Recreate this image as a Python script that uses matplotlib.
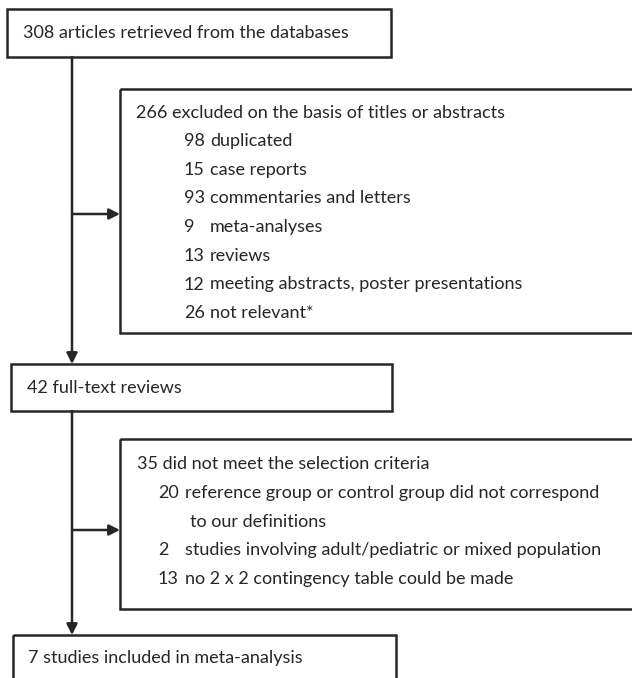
import matplotlib.pyplot as plt
from matplotlib.patches import Rectangle, FancyArrowPatch

plt.rcParams['font.family'] = ['Lato', 'DejaVu Sans']

# flow stages and exclusion reasons
retrieved = "308 articles retrieved from the databases"
excluded_title = "266 excluded on the basis of titles or abstracts"
excluded_counts = ["98", "15", "93", "9", "13", "12", "26"]
excluded_reasons = ["duplicated", "case reports", "commentaries and letters",
                    "meta-analyses", "reviews",
                    "meeting abstracts, poster presentations", "not relevant*"]
fulltext = "42 full-text reviews"
criteria_title = "35 did not meet the selection criteria"
criteria_counts = ["20", "", "2", "13"]
criteria_reasons = ["reference group or control group did not correspond",
                    "to our definitions",
                    "studies involving adult/pediatric or mixed population",
                    "no 2 x 2 contingency table could be made"]
included = "7 studies included in meta-analysis"

W, H = 632, 678
INK = "#262626"
LW = 1.8
FS = 13

fig = plt.figure(figsize=(W / 100, H / 100), dpi=100)
ax = fig.add_axes([0, 0, 1, 1])
ax.set_xlim(0, W)
ax.set_ylim(H, 0)
ax.axis("off")


def box(x0, y0, x1, y1):
    ax.add_patch(Rectangle((x0, y0), x1 - x0, y1 - y0, fill=False,
                           edgecolor=INK, linewidth=LW, clip_on=False))


def text(x, y, s):
    ax.text(x, y, s, fontsize=FS, color=INK, va="center", ha="left")


def arrow(p0, p1):
    ax.add_patch(FancyArrowPatch(p0, p1, arrowstyle="-|>", mutation_scale=16,
                                 color=INK, linewidth=LW, shrinkA=0, shrinkB=0))


# main column
box(7, 9, 391, 57)
text(23, 33, retrieved)
arrow((72, 57), (72, 364))

box(11, 364, 392, 411)
text(27, 388, fulltext)
arrow((72, 411), (72, 635))

box(13, 635, 396, 700)
text(28, 658, included)

# first exclusion box
box(120, 89, 660, 333)
text(136, 113, excluded_title)
for i, (n, r) in enumerate(zip(excluded_counts, excluded_reasons)):
    y = 141 + 28.7 * i
    text(184, y, n)
    text(210, y, r)
arrow((72, 214), (120, 214))

# second exclusion box
box(120, 439, 660, 609)
text(137, 464, criteria_title)
for i, (n, r) in enumerate(zip(criteria_counts, criteria_reasons)):
    y = 493 + 28.7 * i
    text(158, y, n)
    text(185 if n else 190, y, r)
arrow((72, 530), (120, 530))

fig.savefig("out.png", dpi=100)
